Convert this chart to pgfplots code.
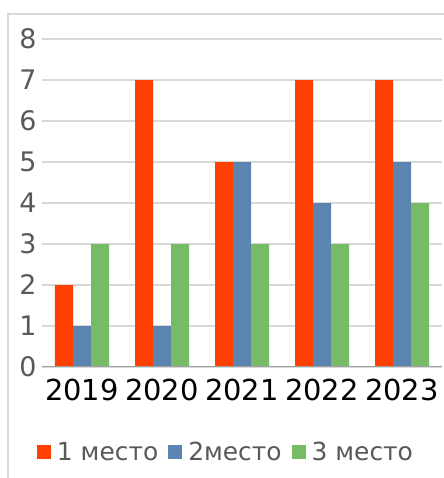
\documentclass[border=0pt]{standalone}
\usepackage{fontspec}
\setmainfont{DejaVu Sans}
\usepackage{pgfplots}
\pgfplotsset{compat=1.18}
\definecolor{cRed}{RGB}{255,64,0}
\definecolor{cBlue}{RGB}{91,132,177}
\definecolor{cGreen}{RGB}{119,187,101}
\definecolor{cGrid}{RGB}{217,217,217}
\definecolor{cTxt}{RGB}{89,89,89}
\definecolor{cAxis}{RGB}{160,160,160}
\begin{document}
\begin{tikzpicture}
\path[use as bounding box] (0,0) rectangle (444bp,478bp);
\draw[cGrid, line width=1.5bp] (8bp,0) -- (8bp,464bp) -- (444bp,464bp);
\begin{axis}[
  at={(42bp,111bp)}, anchor=south west,
  scale only axis, width=400bp, height=328bp,
  ybar=0pt, bar width=18bp,
  xmin=-0.5, xmax=4.5, ymin=0, ymax=8,
  xtick={0,1,2,3,4},
  xticklabels={2019,2020,2021,2022,2023},
  ytick={0,1,2,3,4,5,6,7,8},
  major tick length=0pt,
  axis line style={draw=none},
  ymajorgrids, grid style={cGrid, line width=1.5bp},
  /pgf/number format/assume math mode=true,
  yticklabel style={font=\fontsize{27}{30}\selectfont, text=cTxt, xshift=-2bp},
  xticklabel style={font=\fontsize{29}{32}\selectfont, text=black, yshift=-9bp},
  legend style={at={(0.46,-0.26)}, anchor=center, draw=none, fill=none,
    font=\fontsize{25}{28}\selectfont, text=cTxt,
    /tikz/every odd column/.append style={column sep=4bp},
    /tikz/every even column/.append style={column sep=8bp}},
  legend columns=-1,
  legend image code/.code={\fill[#1, draw=none] (0bp,-7bp) rectangle (14bp,7bp);},
]
\addplot[fill=cRed, draw=none] coordinates {(0,2) (1,7) (2,5) (3,7) (4,7)};
\addplot[fill=cBlue, draw=none] coordinates {(0,1) (1,1) (2,5) (3,4) (4,5)};
\addplot[fill=cGreen, draw=none] coordinates {(0,3) (1,3) (2,3) (3,3) (4,4)};
\legend{1 место, 2место, 3 место}
\draw[cAxis, line width=1.5bp] (axis cs:-0.5,0) -- (axis cs:4.5,0);
\end{axis}
\end{tikzpicture}
\end{document}
